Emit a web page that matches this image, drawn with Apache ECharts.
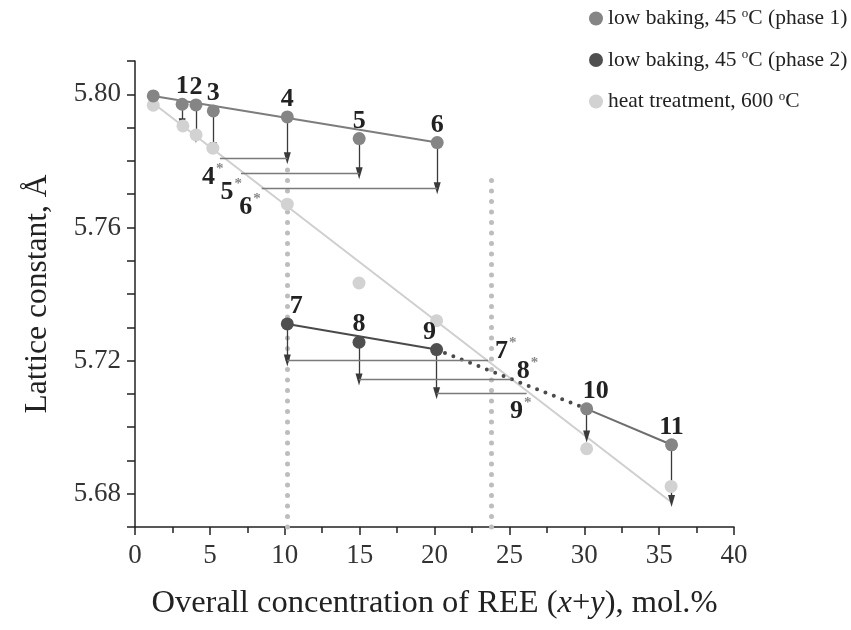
<!DOCTYPE html>
<html><head><meta charset="utf-8">
<script src="https://cdn.jsdelivr.net/npm/echarts@6/dist/echarts.min.js"></script>
<style>html,body{margin:0;padding:0;background:#fff}#c{width:851px;height:630px}</style>
</head><body><div id="c"></div>
<script>
// ---- data ----
const phase1Points = [[1.22,5.7995],[3.15,5.7970],[4.07,5.7968],[5.23,5.7950],[10.17,5.7932],[14.97,5.7867],[20.18,5.7855]];
const phase1Labels = ['', '1', '2', '3', '4', '5', '6'];
const phase2Points = [[10.17,5.7310],[14.96,5.7255],[20.14,5.7233]];
const phase2Labels = ['7', '8', '9'];
const latePoints = [[30.16,5.7055],[35.83,5.6947]];
const lateLabels = ['10', '11'];
const heatPoints = [[1.22,5.7967],[3.20,5.7905],[4.08,5.7878],[5.20,5.7838],[10.17,5.7670],[14.96,5.7433],[20.14,5.7320],[30.16,5.6935],[35.80,5.6822]];
const fitPhase1 = [[1.22,5.7995],[20.18,5.7855]];
const fitPhase2 = [[10.17,5.7310],[20.14,5.7233]];
const fitTransition = [[20.14,5.7233],[30.16,5.7055]];
const fitLate = [[30.16,5.7055],[35.83,5.6947]];
const fitHeat = [[1.22,5.7973],[35.80,5.6775]];
const arrows = [[3.15,5.7970,5.7910],[4.07,5.7968,5.7872],[5.23,5.7950,5.7838],[10.17,5.7932,5.7808],[14.97,5.7867,5.7763],[20.18,5.7855,5.7718],[10.17,5.7310,5.7200],[14.96,5.7255,5.7143],[20.14,5.7233,5.7102],[30.16,5.7055,5.6972],[35.83,5.6947,5.6778]];
const connectors = [[5.67,10.17,5.7808],[7.08,14.97,5.7763],[8.46,20.18,5.7718],[10.17,23.58,5.7200],[14.96,25.15,5.7143],[20.14,26.15,5.7102]];
const guides = [[10.17,5.670,5.780],[23.80,5.670,5.7765]];
const starLabels = [[4.90,5.7752,'4'],[6.15,5.7706,'5'],[7.40,5.7662,'6'],[24.48,5.7228,'7'],[25.92,5.7168,'8'],[25.48,5.7048,'9']];
const seriesNames = ['low baking, 45 °C (phase 1)', 'low baking, 45 °C (phase 2)', 'heat treatment, 600 °C'];
const xTickStep = 5, yTickStep = 0.01, yLabelEvery = 4;

// ---- styles ----
const C1 = '#858585', C2 = '#4f4f4f', C3 = '#d2d2d2';
const serif = '"Liberation Serif", "Times New Roman", serif';
const numLabel = {show: true, position: 'top', distance: -2, color: '#222', fontFamily: serif, fontWeight: 'bold', fontSize: 26};
const labelOffsets = {'7': [9, 0], '9': [-7, 0], '10': [9, 0], '11': [0, 0]};

function withLabels(points, labels) {
  return points.map((p, i) => ({value: p, label: Object.assign({}, numLabel, {show: labels[i] !== '', formatter: labels[i], offset: labelOffsets[labels[i]] || [0, 0]})}));
}
function lineSeries(data, color, width, type) {
  return {type: 'line', data: data, symbol: 'none', silent: true, z: 2,
    lineStyle: {color: color, width: width, type: type || 'solid', cap: 'round'}, legendHoverLink: false};
}

const markLines = [];
arrows.forEach(a => markLines.push([{coord: [a[0], a[1]], symbol: 'none'}, {coord: [a[0], a[2]], symbol: 'triangle', symbolSize: [7, 12], symbolRotate: 180}]));
connectors.forEach(c => markLines.push([{coord: [c[0], c[2]], symbol: 'none', lineStyle: {color: '#7a7a7a'}}, {coord: [c[1], c[2]], symbol: 'none'}]));

const option = {
  animation: false,
  backgroundColor: '#fff',
  grid: {left: 135, right: 117, top: 61, bottom: 103, containLabel: false},
  legend: {
    orient: 'vertical', left: 584, top: 2, itemGap: 19, itemWidth: 14, itemHeight: 14, icon: 'circle',
    data: seriesNames,
    formatter: n => '{t|' + n.replace('°', '}{s|o}{t|') + '}',
    textStyle: {fontFamily: serif, fontSize: 21.5, color: '#222',
      rich: {t: {fontFamily: serif, fontSize: 21.5, color: '#222'}, s: {fontFamily: serif, fontSize: 13, color: '#222', padding: [0, 0, 10, 0]}}}
  },
  xAxis: {
    type: 'value', min: 0, max: 40, interval: xTickStep,
    name: '{n|Overall concentration of REE (}{i|x}{n|+}{i|y}{n|), mol.%}',
    nameLocation: 'middle', nameGap: 60,
    nameTextStyle: {rich: {n: {fontFamily: serif, fontSize: 32.5, color: '#222'}, i: {fontFamily: serif, fontSize: 32.5, fontStyle: 'italic', color: '#222'}}},
    axisLine: {lineStyle: {color: '#222', width: 1.5}},
    axisTick: {show: true, length: 8, lineStyle: {color: '#222', width: 1.5}},
    minorTick: {show: true, splitNumber: 2, length: 6, lineStyle: {color: '#222', width: 1.5}},
    axisLabel: {fontFamily: serif, fontSize: 27, color: '#333', margin: 15},
    splitLine: {show: false}
  },
  yAxis: {
    type: 'value', min: 5.67, max: 5.81, interval: yTickStep,
    name: 'Lattice constant, Å', nameLocation: 'middle', nameGap: 81,
    nameTextStyle: {fontFamily: serif, fontSize: 31.5, color: '#222'},
    axisLine: {lineStyle: {color: '#222', width: 1.5}},
    axisTick: {show: true, length: 8, lineStyle: {color: '#222', width: 1.5}},
    axisLabel: {interval: 0, fontFamily: serif, fontSize: 27, color: '#333', margin: 14,
      formatter: v => (Math.round(v * 100) % yLabelEvery === 0 ? v.toFixed(2) : '')},
    splitLine: {show: false}
  },
  series: [
    lineSeries(fitHeat, '#cfcfcf', 2),
    lineSeries(fitPhase1, '#7d7d7d', 2),
    lineSeries(fitPhase2, '#4a4a4a', 2),
    lineSeries(fitLate, '#6e6e6e', 2),
    lineSeries(fitTransition, '#4a4a4a', 4, [0, 9]),
    {type: 'scatter', data: [], silent: true, z: 3,
      markLine: {silent: true, animation: false, symbol: ['none', 'none'], label: {show: false},
        lineStyle: {color: '#bdbdbd', width: 5, type: [0, 10.5], cap: 'round'},
        data: guides.map(g => [{coord: [g[0], g[1]]}, {coord: [g[0], g[2]]}])}},
    {type: 'scatter', data: [], silent: true, z: 4,
      markLine: {silent: true, animation: false, symbol: ['none', 'none'], label: {show: false},
        lineStyle: {color: '#3a3a3a', width: 1.3, type: 'solid'}, itemStyle: {color: '#111'},
        data: markLines}},
    {name: seriesNames[2], type: 'scatter', symbolSize: 13, itemStyle: {color: C3, opacity: 1}, data: heatPoints, z: 5},
    {name: seriesNames[0], type: 'scatter', symbolSize: 13, itemStyle: {color: C1, opacity: 1}, data: withLabels(phase1Points, phase1Labels), z: 6},
    {name: seriesNames[0], type: 'scatter', symbolSize: 13, itemStyle: {color: C1, opacity: 1}, data: withLabels(latePoints, lateLabels), z: 6},
    {name: seriesNames[1], type: 'scatter', symbolSize: 13, itemStyle: {color: C2, opacity: 1}, data: withLabels(phase2Points, phase2Labels), z: 6},
    {type: 'scatter', symbol: 'circle', symbolSize: 1, itemStyle: {color: '#ffffff', opacity: 1}, silent: true, z: 7,
      data: starLabels.map(s => ({value: [s[0], s[1]], label: {show: true, formatter: '{d|' + s[2] + '}{s|*}'}})),
      label: {show: true, position: 'right', distance: 0, offset: [-7, 0], color: '#222',
        rich: {d: {fontFamily: serif, fontWeight: 'bold', fontSize: 26, color: '#222'},
          s: {fontFamily: serif, fontWeight: 'bold', fontSize: 15, color: '#888', padding: [0, 0, 16, 1]}}}}
  ]
};
const chart = echarts.init(document.getElementById('c'), null, {renderer: 'canvas'});
chart.setOption(option);
</script></body></html>
